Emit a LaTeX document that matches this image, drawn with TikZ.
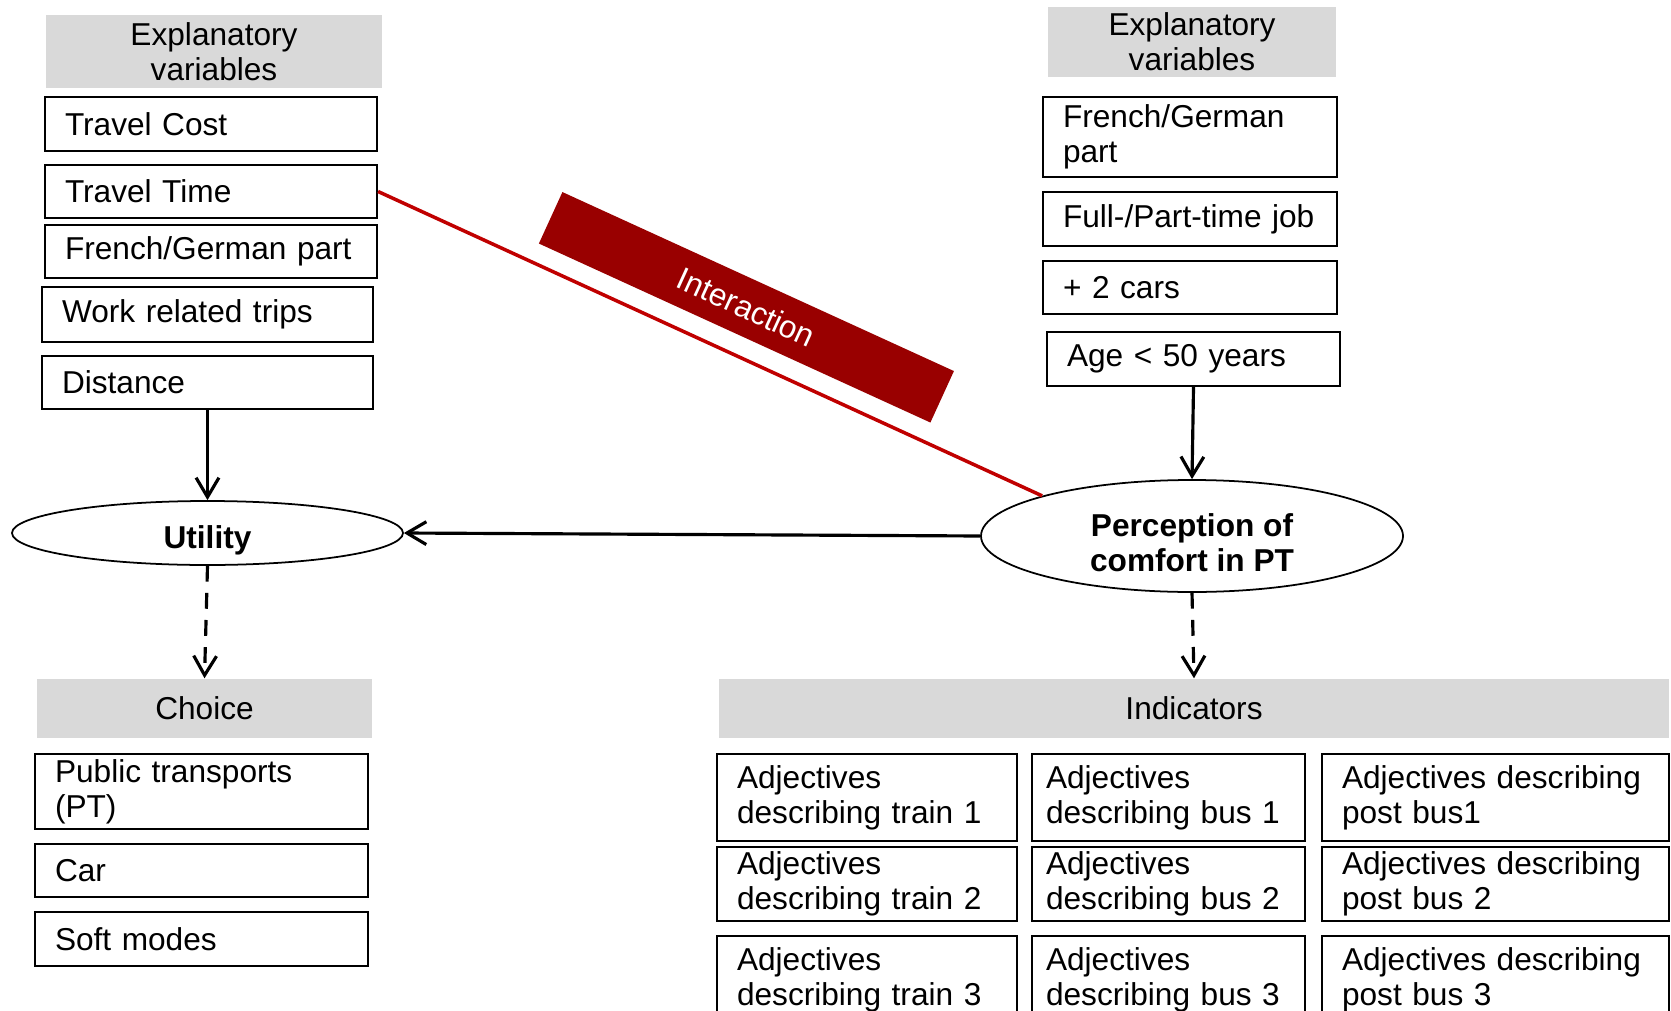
\documentclass[tikz,border=0pt]{standalone}
\usepackage{fontspec}
\setmainfont{Liberation Sans}
\usetikzlibrary{shapes.geometric,arrows.meta}
\definecolor{hdrgray}{RGB}{217,217,217}
\definecolor{linkred}{RGB}{192,0,0}
\definecolor{bandred}{RGB}{153,0,0}
\tikzset{
	varbox/.style={draw,line width=0.6pt,align=left,inner xsep=0.2cm,inner ysep=0pt},
	hdrbox/.style={fill=hdrgray,align=center,inner sep=0pt},
	latent/.style={draw,ellipse,line width=0.5pt,inner sep=0pt},
	latlbl/.style={font=\fontsize{9}{10}\selectfont\bfseries,align=center,yshift=-2pt},
	effect/.style={line width=0.9pt,-{Straight Barb[length=5.5pt,width=6.5pt]}},
	measure/.style={effect,dash pattern=on 4.5pt off 3.2pt}
}

\begin{document}
\begin{tikzpicture}[x=0.1mm,y=-0.1mm,font=\fontsize{9}{10}\selectfont]
	\useasboundingbox (0,0) rectangle (1671,1010);
	
	%LEFT VARIABLES
	\node[hdrbox,minimum width=3.36cm,minimum height=0.73cm] (hdrL) at (214,51.5) {Explanatory\\variables};
	\node[varbox,text width=2.92cm,minimum height=0.54cm] (cost) at (211,124) {Travel Cost};
	\node[varbox,text width=2.92cm,minimum height=0.53cm] (time) at (211,191.5) {Travel Time};
	\node[varbox,text width=2.92cm,minimum height=0.53cm] (langL) at (211,251.5) {French/German part};
	\node[varbox,text width=2.91cm,minimum height=0.55cm] (work) at (207.5,314.5) {Work related trips};
	\node[varbox,text width=2.91cm,minimum height=0.53cm] (dist) at (207.5,382.5) {Distance};
	
	%RIGHT VARIABLES
	\node[hdrbox,minimum width=2.88cm,minimum height=0.70cm] (hdrR) at (1192,42) {Explanatory\\variables};
	\node[varbox,text width=2.54cm,minimum height=0.80cm] (langR) at (1190,137) {French/German\\part};
	\node[varbox,text width=2.54cm,minimum height=0.54cm] (job) at (1190,219) {Full-/Part-time job};
	\node[varbox,text width=2.54cm,minimum height=0.53cm] (cars) at (1190,287.5) {+ 2 cars};
	\node[varbox,text width=2.53cm,minimum height=0.54cm] (age) at (1193.5,359) {Age < 50 years};
	
	%LATENT PARTS
	\node[latent,minimum width=3.91cm,minimum height=0.64cm,label={[latlbl]center:Utility}] (util) at (207.5,533) {};
	\node[latent,minimum width=4.22cm,minimum height=1.12cm,label={[latlbl]center:Perception of\\comfort in PT}] (perc) at (1192,536) {};
	\node[fill=bandred,text=white,rotate=-24.57,minimum width=4.305cm,minimum height=0.566cm,inner sep=0pt] (inter) at (746.4,307.3) {Interaction};
	
	%CHOICE
	\node[hdrbox,minimum width=3.35cm,minimum height=0.59cm] (choice) at (204.5,708.5) {Choice};
	\node[varbox,text width=2.93cm,minimum height=0.75cm] (pt) at (201.5,791.5) {Public transports\\(PT)};
	\node[varbox,text width=2.93cm,minimum height=0.53cm] (car) at (201.5,870.5) {Car};
	\node[varbox,text width=2.93cm,minimum height=0.54cm] (soft) at (201.5,939) {Soft modes};
	
	%INDICATORS
	\node[hdrbox,minimum width=9.50cm,minimum height=0.59cm] (indhdr) at (1194,708.5) {Indicators};
	\node[varbox,text width=2.60cm,minimum height=0.87cm] (train1) at (867,797.5) {Adjectives\\describing train 1};
	\node[varbox,inner xsep=0.14cm,text width=2.45cm,minimum height=0.87cm] (bus1) at (1168.5,797.5) {Adjectives\\describing bus 1};
	\node[varbox,text width=3.07cm,minimum height=0.87cm] (post1) at (1495.5,797.5) {Adjectives describing\\post bus1};
	\node[varbox,text width=2.60cm,minimum height=0.74cm] (train2) at (867,884) {Adjectives\\describing train 2};
	\node[varbox,inner xsep=0.14cm,text width=2.45cm,minimum height=0.74cm] (bus2) at (1168.5,884) {Adjectives\\describing bus 2};
	\node[varbox,text width=3.07cm,minimum height=0.74cm] (post2) at (1495.5,884) {Adjectives describing\\post bus 2};
	\node[varbox,text width=2.60cm,minimum height=0.87cm] (train3) at (867,979.5) {Adjectives\\describing train 3};
	\node[varbox,inner xsep=0.14cm,text width=2.45cm,minimum height=0.87cm] (bus3) at (1168.5,979.5) {Adjectives\\describing bus 3};
	\node[varbox,text width=3.07cm,minimum height=0.87cm] (post3) at (1495.5,979.5) {Adjectives describing\\post bus 3};
	
	%ARROWS
	\draw[effect] (dist.south) -- (util.north);
	\draw[effect] (age.south) -- (perc.north);
	\draw[effect] (perc.west) -- (util.east);
	\draw[measure] (util.south) -- (choice.north);
	\draw[measure] (perc.south) -- (indhdr.north);
	\draw[linkred,line width=1pt] (time.east) -- (perc.165); %interaction line
\end{tikzpicture}
\end{document}
